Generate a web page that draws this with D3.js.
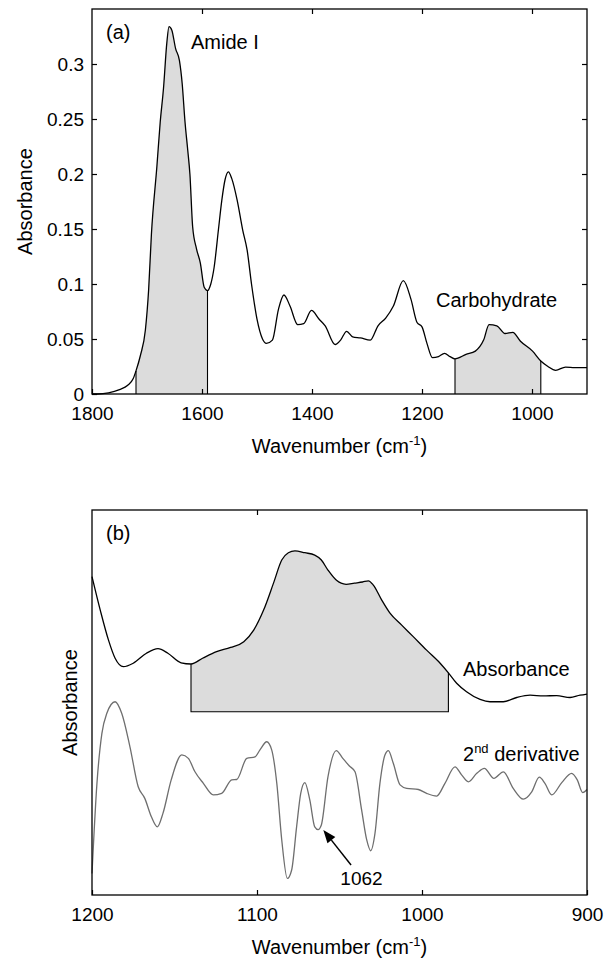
<!DOCTYPE html>
<html><head><meta charset="utf-8">
<script src="https://cdn.jsdelivr.net/npm/d3@7"></script>
<style>
body{margin:0;background:#fff}
svg{display:block}
text{font-family:"Liberation Sans",Arial,Helvetica,sans-serif;fill:#000}
</style>
</head><body>
<svg id="c" width="613" height="960"></svg>
<script>
// ---------- DATA ----------
// Panel (a): FTIR spectrum, [wavenumber, absorbance]
const spectrumA = [[1800,0.000],[1790,0.000],[1770,0.001],[1750,0.004],[1735,0.008],[1725,0.014],[1720,0.021],[1712,0.035],[1703,0.058],[1697,0.095],[1692,0.145],[1682,0.207],[1676,0.247],[1670,0.278],[1664,0.319],[1660,0.334],[1655,0.331],[1648,0.314],[1641,0.303],[1636,0.282],[1631,0.248],[1626,0.222],[1622,0.200],[1617,0.152],[1610,0.132],[1603,0.119],[1596,0.097],[1590,0.094],[1584,0.100],[1578,0.115],[1570,0.150],[1564,0.176],[1558,0.195],[1552,0.202],[1546,0.196],[1536,0.176],[1526,0.149],[1518,0.131],[1510,0.100],[1500,0.068],[1490,0.050],[1483,0.046],[1472,0.049],[1461,0.077],[1451,0.090],[1440,0.080],[1426,0.063],[1415,0.064],[1401,0.076],[1387,0.068],[1376,0.062],[1358,0.045],[1348,0.049],[1337,0.057],[1326,0.052],[1312,0.051],[1294,0.049],[1280,0.062],[1266,0.069],[1252,0.080],[1234,0.103],[1220,0.086],[1209,0.065],[1200,0.061],[1191,0.046],[1181,0.033],[1170,0.034],[1159,0.037],[1149,0.034],[1140,0.032],[1120,0.036],[1103,0.039],[1088,0.049],[1078,0.063],[1064,0.062],[1049,0.055],[1035,0.056],[1021,0.048],[999,0.039],[984,0.030],[971,0.025],[957,0.0215],[939,0.0245],[922,0.024],[900,0.024]];
const amideRange = [1720, 1590];
const carbRange = [1140, 984];
const xTicksA = [1800, 1600, 1400, 1200, 1000];
const xFrameTicksA = [1600, 1400, 1200, 1000];
const yTicksA = [0, 0.05, 0.1, 0.15, 0.2, 0.25, 0.3];

// Panel (b): arbitrary vertical units (0 bottom .. 100 top)
const absorbanceB = [[1200,82.7],[1195,74.0],[1190,66.2],[1186,61.5],[1181,59.3],[1175,60.2],[1167,62.8],[1160,64.0],[1154,62.8],[1146,60.3],[1140,60.0],[1133,61.5],[1124.5,63.2],[1116,64.3],[1108,65.8],[1102,68.8],[1096,74.0],[1090,81.0],[1085,87.0],[1081,88.9],[1077,89.4],[1071,88.9],[1065,88.3],[1061,87.0],[1057,84.4],[1052,81.8],[1046,80.7],[1041,81.0],[1036,81.3],[1032.5,81.6],[1029.5,80.5],[1024.4,76.6],[1019.4,73.2],[1012.3,70.1],[1005.3,67.1],[997.2,63.6],[989,60.2],[984,57.7],[979,55.0],[973,52.8],[964.8,50.8],[958.8,50.2],[950.7,50.2],[942.6,51.3],[934.5,51.9],[926.5,51.7],[918.4,51.8],[910.3,51.3],[904.2,51.9],[900,52.2]];
const derivativeB = [[1200,5.6],[1197,29.0],[1194,42.0],[1191,47.2],[1186,50.2],[1182,47.2],[1177,38.5],[1172,28.1],[1168,25.1],[1164,20.3],[1160.4,17.7],[1157,21.2],[1152,29.9],[1145.6,36.4],[1141.6,35.5],[1137.6,32.0],[1132.5,29.0],[1126.5,26.0],[1121.4,26.4],[1115.3,29.9],[1112.3,30.0],[1106.2,35.5],[1101.2,35.9],[1098.2,37.7],[1094.1,39.8],[1091.1,37.7],[1088,29.0],[1085,14.3],[1081.6,4.3],[1079,6.5],[1076,17.7],[1073.5,26.4],[1071,29.2],[1068,24.7],[1065,17.7],[1063,17.0],[1061,18.2],[1057,30.7],[1052,37.5],[1048,35.5],[1044,33.5],[1040.6,32.0],[1036.6,22.1],[1033.5,14.3],[1031.1,11.5],[1028.5,16.0],[1025.5,29.0],[1022.4,36.4],[1020.4,37.5],[1017.4,34.2],[1013.3,28.6],[1009.3,27.7],[1002.2,27.4],[997.2,26.4],[991.1,25.7],[986.1,29.0],[980,33.3],[976,31.2],[971.9,29.4],[966.8,31.6],[962.2,32.9],[956.4,30.3],[950.7,32.0],[944.7,27.7],[938.6,24.9],[933.5,26.8],[928.9,30.6],[925.5,29.0],[921.4,26.0],[915.3,29.2],[909.3,31.6],[905.9,29.9],[902.6,26.6],[900,27.4]];
const shadeBaseB = 47.6;
const xTicksB = [1200, 1100, 1000, 900];
const xFrameTicksB = [1100, 1000];
const peakLabel = "1062";
const arrowTip = [1059.8, 16.9], arrowTail = [1043, 7.8], peakLabelPos = [1049.5, 2.6];

// ---------- DRAW ----------
const svg = d3.select("#c");
const FS = 20, TFS = 19;
const SHADE = "#dcdcdc";

function panel(x, y, xTicks, xFrameTicks, yTicks, yFmt) {
  const [x0, x1] = x.range();
  const [yb, yt] = y.range();
  const g = svg.append("g");
  const fix = sel => { sel.select(".domain").remove(); sel.attr("font-size", null).attr("font-family", null);
    sel.selectAll("line").attr("stroke", "#000").attr("stroke-width", 1.2);
    sel.selectAll("text").attr("font-size", TFS); };
  g.append("g").attr("transform", `translate(0,${yb})`)
    .call(d3.axisBottom(x).tickValues(xTicks).tickSize(-5).tickPadding(12.5).tickFormat(d3.format("d"))).call(fix);
  g.append("g").attr("transform", `translate(0,${yt})`)
    .call(d3.axisTop(x).tickValues(xFrameTicks).tickSize(-5).tickFormat("")).call(fix);
  if (yTicks) {
    g.append("g").attr("transform", `translate(${x0},0)`)
      .call(d3.axisLeft(y).tickValues(yTicks).tickSize(-5).tickPadding(8).tickFormat(yFmt)).call(fix);
    g.append("g").attr("transform", `translate(${x1},0)`)
      .call(d3.axisRight(y).tickValues(yTicks.filter(v => v > 0)).tickSize(-5).tickFormat("")).call(fix);
  }
  return g;
}

function frame(x, y) {
  const [x0, x1] = x.range(); const [yb, yt] = y.range();
  svg.append("rect").attr("x", x0).attr("y", yt).attr("width", x1 - x0).attr("height", yb - yt)
    .attr("fill", "none").attr("stroke", "#000").attr("stroke-width", 1.3);
}

function xLabel(x, baseline) {
  const [x0, x1] = x.range();
  const t = svg.append("text").attr("x", (x0 + x1) / 2).attr("y", baseline).attr("text-anchor", "middle").attr("font-size", FS);
  t.append("tspan").text("Wavenumber (cm");
  t.append("tspan").attr("font-size", 13).attr("dy", -8).text("-1");
  t.append("tspan").attr("dy", 8).text(")");
}
function yLabel(y, xpos) {
  const [yb, yt] = y.range();
  svg.append("text").attr("transform", `translate(${xpos},${(yb + yt) / 2}) rotate(-90)`)
    .attr("text-anchor", "middle").attr("font-size", FS).text("Absorbance");
}

// Panel (a)
const xA = d3.scaleLinear().domain([1800, 900]).range([92, 587]);
const yA = d3.scaleLinear().domain([0, 0.35]).range([394, 9]);
const lineA = d3.line().x(d => xA(d[0])).y(d => yA(d[1])).curve(d3.curveMonotoneX);
const areaA = d3.area().x(d => xA(d[0])).y0(yA(0)).y1(d => yA(d[1])).curve(d3.curveMonotoneX);

[amideRange, carbRange].forEach((r, i) => {
  const seg = spectrumA.filter(d => d[0] <= r[0] && d[0] >= r[1]);
  svg.append("path").attr("d", areaA(seg)).attr("fill", SHADE).attr("stroke", "none");
  seg.filter((d, j) => j === 0 || j === seg.length - 1).forEach(d => {
    svg.append("line").attr("x1", xA(d[0])).attr("x2", xA(d[0])).attr("y1", yA(0)).attr("y2", yA(d[1]))
      .attr("stroke", "#000").attr("stroke-width", 1.1);
  });
});
svg.append("path").attr("d", lineA(spectrumA)).attr("fill", "none").attr("stroke", "#000").attr("stroke-width", 1.3);
panel(xA, yA, xTicksA, xFrameTicksA, yTicksA, d => String(d));
frame(xA, yA);
xLabel(xA, 453);
yLabel(yA, 32);
svg.append("text").attr("x", 106).attr("y", 39).attr("font-size", FS).text("(a)");
svg.append("text").attr("x", 191).attr("y", 49).attr("font-size", FS).text("Amide I");
svg.append("text").attr("x", 436).attr("y", 307).attr("font-size", FS).text("Carbohydrate");

// Panel (b)
const xB = d3.scaleLinear().domain([1200, 900]).range([92, 587]);
const yB = d3.scaleLinear().domain([0, 100]).range([895, 510]);
const lineB = d3.line().x(d => xB(d[0])).y(d => yB(d[1])).curve(d3.curveMonotoneX);
const areaB = d3.area().x(d => xB(d[0])).y0(yB(shadeBaseB)).y1(d => yB(d[1])).curve(d3.curveMonotoneX);
const segB = absorbanceB.filter(d => d[0] <= carbRange[0] && d[0] >= carbRange[1]);
svg.append("path").attr("d", areaB(segB)).attr("fill", SHADE).attr("stroke", "none");
const f = segB[0], l = segB[segB.length - 1];
svg.append("path").attr("d", d3.line()([[xB(f[0]), yB(f[1])], [xB(f[0]), yB(shadeBaseB)], [xB(l[0]), yB(shadeBaseB)], [xB(l[0]), yB(l[1])]]))
  .attr("fill", "none").attr("stroke", "#000").attr("stroke-width", 1.1);
svg.append("path").attr("d", lineB(absorbanceB)).attr("fill", "none").attr("stroke", "#000").attr("stroke-width", 1.3);
svg.append("path").attr("d", lineB(derivativeB)).attr("fill", "none").attr("stroke", "#6e6e6e").attr("stroke-width", 1.3);
panel(xB, yB, xTicksB, xFrameTicksB, null, null);
frame(xB, yB);
xLabel(xB, 954);
yLabel(yB, 77);
svg.append("text").attr("x", 106).attr("y", 540).attr("font-size", FS).text("(b)");
svg.append("text").attr("x", 463).attr("y", 676).attr("font-size", FS).text("Absorbance");
const dl = svg.append("text").attr("x", 463).attr("y", 761).attr("font-size", FS);
dl.append("tspan").text("2");
dl.append("tspan").attr("font-size", 13).attr("dy", -8).text("nd");
dl.append("tspan").attr("dy", 8).text(" derivative");

// arrow to 1062
const tip = [xB(arrowTip[0]), yB(arrowTip[1])], tail = [xB(arrowTail[0]), yB(arrowTail[1])];
const ang = Math.atan2(tail[1] - tip[1], tail[0] - tip[0]);
const hl = 13, hw = 5;
const base = [tip[0] + hl * Math.cos(ang), tip[1] + hl * Math.sin(ang)];
svg.append("line").attr("x1", tail[0]).attr("y1", tail[1]).attr("x2", base[0]).attr("y2", base[1])
  .attr("stroke", "#000").attr("stroke-width", 1.5);
svg.append("path").attr("d", d3.line()([tip,
  [base[0] + hw * Math.sin(ang), base[1] - hw * Math.cos(ang)],
  [base[0] - hw * Math.sin(ang), base[1] + hw * Math.cos(ang)]]) + "Z").attr("fill", "#000");
svg.append("text").attr("x", xB(peakLabelPos[0])).attr("y", yB(peakLabelPos[1])).attr("font-size", TFS).text(peakLabel);
</script>
</body></html>
